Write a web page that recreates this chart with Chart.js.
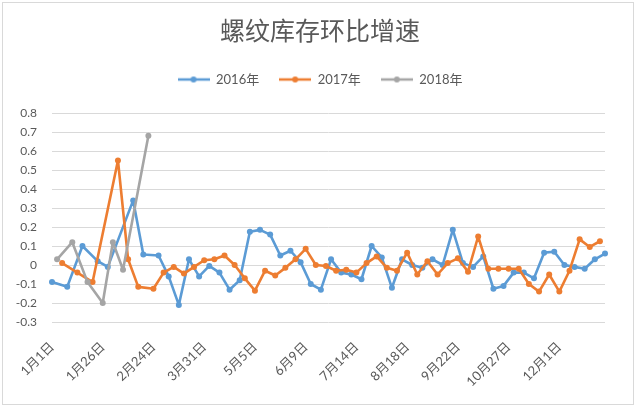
<!DOCTYPE html>
<html>
<head>
<meta charset="utf-8">
<script src="https://cdn.jsdelivr.net/npm/chart.js@4.4.1/dist/chart.umd.min.js"></script>
<style>
html, body { margin: 0; padding: 0; background: #fff; }
#wrap { position: relative; width: 640px; height: 411px; }
#frame { position: absolute; left: 2px; top: 2px; width: 632px; height: 403px; border: 1px solid #d9d9d9; box-sizing: border-box; pointer-events: none; }
</style>
</head>
<body>
<div id="wrap">
  <canvas id="chart" width="640" height="411"></canvas>
  <div id="frame"></div>
</div>
<script>
// Linhas do eixo: datas dos três anos intercaladas (mês/dia)
const dateLabels = [
  '1月1日', '1月5日', '1月6日', '1月8日', '1月12日', '1月13日', '1月15日', '1月19日', '1月20日', '1月22日',
  '1月26日', '1月29日', '2月2日', '2月3日', '2月9日', '2月10日', '2月12日', '2月17日', '2月19日', '2月23日',
  '2月24日', '2月26日', '3月3日', '3月4日', '3月10日', '3月11日', '3月17日', '3月18日', '3月24日', '3月25日',
  '3月31日', '4月1日', '4月7日', '4月8日', '4月14日', '4月15日', '4月21日', '4月22日', '4月28日', '4月29日',
  '5月5日', '5月6日', '5月12日', '5月13日', '5月19日', '5月20日', '5月26日', '5月27日', '6月2日', '6月3日',
  '6月9日', '6月10日', '6月16日', '6月17日', '6月23日', '6月24日', '6月30日', '7月1日', '7月7日', '7月8日',
  '7月14日', '7月15日', '7月21日', '7月22日', '7月28日', '7月29日', '8月4日', '8月5日', '8月11日', '8月12日',
  '8月18日', '8月19日', '8月25日', '8月26日', '9月1日', '9月2日', '9月8日', '9月9日', '9月15日', '9月16日',
  '9月22日', '9月23日', '9月29日', '9月30日', '10月6日', '10月7日', '10月13日', '10月14日', '10月20日', '10月21日',
  '10月27日', '10月28日', '11月3日', '11月4日', '11月10日', '11月11日', '11月17日', '11月18日', '11月24日', '11月25日',
  '12月1日', '12月2日', '12月8日', '12月9日', '12月15日', '12月16日', '12月22日', '12月23日', '12月29日', '12月30日'
];

const serie2016 = [
  -0.09, null, null, -0.115, null, null, 0.10, null, null, 0.02,
  null, -0.01, null, null, null, null, 0.34, null, 0.055, null,
  null, 0.05, null, -0.06, null, -0.21, null, 0.03, null, -0.06,
  null, -0.005, null, -0.04, null, -0.13, null, -0.08, null, 0.175,
  null, 0.185, null, 0.16, null, 0.05, null, 0.075, null, 0.015,
  null, -0.10, null, -0.13, null, 0.03, null, -0.04, null, -0.05,
  null, -0.075, null, 0.10, null, 0.04, null, -0.12, null, 0.03,
  null, 0.00, null, -0.015, null, 0.03, null, 0.00, null, 0.185,
  null, 0.01, null, -0.01, null, 0.045, null, -0.125, null, -0.11,
  null, -0.04, null, -0.04, null, -0.07, null, 0.065, null, 0.07,
  null, 0.00, null, -0.01, null, -0.02, null, 0.03, null, 0.06
];

const serie2017 = [
  null, null, 0.01, null, null, -0.04, null, null, -0.09, null,
  null, null, null, 0.55, null, 0.03, null, -0.115, null, null,
  -0.125, null, -0.04, null, -0.01, null, -0.045, null, -0.01, null,
  0.025, null, 0.03, null, 0.05, null, 0.00, null, -0.07, null,
  -0.135, null, -0.03, null, -0.055, null, -0.015, null, 0.03, null,
  0.085, null, 0.00, null, -0.005, null, -0.03, null, -0.025, null,
  -0.04, null, 0.01, null, 0.045, null, -0.015, null, -0.03, null,
  0.065, null, -0.05, null, 0.02, null, -0.05, null, 0.01, null,
  0.035, null, -0.035, null, 0.15, null, -0.02, null, -0.02, null,
  -0.02, null, -0.02, null, -0.10, null, -0.14, null, -0.05, null,
  -0.14, null, -0.03, null, 0.135, null, 0.095, null, 0.125, null
];

const serie2018 = [
  null, 0.03, null, null, 0.12, null, null, -0.09, null, null,
  -0.20, null, 0.12, null, -0.025, null, null, null, null, 0.68
];

const seriesNames = ['2016年', '2017年', '2018年'];
const seriesColors = ['#5B9BD5', '#ED7D31', '#A5A5A5'];

const FONT = 'Lato, "Noto Sans CJK SC", sans-serif';
const TEXT_COLOR = '#595959';

// Ícone da legenda: linha com marcador
function iconeLegenda(cor) {
    const c = document.createElement('canvas');
    c.width = 32;
    c.height = 8;
    const g = c.getContext('2d');
    g.strokeStyle = cor;
    g.lineWidth = 2.5;
    g.beginPath();
    g.moveTo(0, 4);
    g.lineTo(32, 4);
    g.stroke();
    g.fillStyle = cor;
    g.beginPath();
    g.arc(16, 4, 3, 0, Math.PI * 2);
    g.fill();
    return c;
}
const icones = seriesColors.map(iconeLegenda);

function montarSerie(i, dados, ordem) {
    return {
        label: seriesNames[i],
        data: dados,
        borderColor: seriesColors[i],
        backgroundColor: seriesColors[i],
        pointBackgroundColor: seriesColors[i],
        pointBorderWidth: 0,
        pointRadius: 3,
        borderWidth: 2.6,
        borderJoinStyle: 'round',
        spanGaps: true,
        tension: 0,
        yAxisID: 'y',
        order: ordem
    };
}

// Espaço extra abaixo da legenda
const espacoLegenda = {
    id: 'espacoLegenda',
    afterInit(chart) {
        const lg = chart.legend;
        const fitOriginal = lg.fit;
        lg.fit = function() {
            fitOriginal.call(this);
            this.height += 17;
        };
    }
};

const ctx = document.getElementById('chart').getContext('2d');
new Chart(ctx, {
    type: 'line',
    data: {
        labels: dateLabels,
        datasets: [
            montarSerie(0, serie2016, 3),
            montarSerie(1, serie2017, 2),
            montarSerie(2, serie2018, 1)
        ]
    },
    plugins: [espacoLegenda],
    options: {
        responsive: false,
        animation: false,
        devicePixelRatio: 1,
        layout: {
            padding: { left: 8, right: 8, top: 0, bottom: 0 }
        },
        plugins: {
            title: {
                display: true,
                text: '螺纹库存环比增速',
                color: TEXT_COLOR,
                font: { size: 25, family: FONT, weight: 'normal', lineHeight: 1.2 },
                padding: { top: 17, bottom: 6 }
            },
            legend: {
                position: 'top',
                labels: {
                    usePointStyle: true,
                    pointStyleWidth: 32,
                    boxHeight: 8,
                    padding: 20,
                    color: TEXT_COLOR,
                    font: { size: 13, family: FONT },
                    sort: (a, b) => a.datasetIndex - b.datasetIndex,
                    generateLabels(chart) {
                        const itens = Chart.defaults.plugins.legend.labels.generateLabels(chart);
                        itens.forEach(it => { it.pointStyle = icones[it.datasetIndex]; });
                        return itens;
                    }
                }
            },
            tooltip: { enabled: false }
        },
        scales: {
            x: {
                grid: { display: false },
                border: { display: false },
                ticks: {
                    autoSkip: false,
                    minRotation: 45,
                    maxRotation: 45,
                    padding: 9,
                    color: TEXT_COLOR,
                    font: { size: 13, family: FONT },
                    callback: (v, i) => (i % 10 === 0 ? dateLabels[i] : '')
                },
                afterFit: s => { s.height = 89; }
            },
            y: {
                position: 'left',
                min: -0.3,
                max: 0.8,
                ticks: {
                    stepSize: 0.1,
                    padding: 15,
                    color: TEXT_COLOR,
                    font: { size: 12, family: FONT },
                    callback: v => String(Math.round(v * 10) / 10)
                },
                grid: { display: true, color: '#d9d9d9', lineWidth: 1, drawTicks: false },
                border: { display: false },
                afterFit: s => { s.width = 44; }
            },
            // eixo vazio à direita só para reservar a margem
            margemDireita: {
                type: 'linear',
                position: 'right',
                grid: { display: false },
                border: { display: false },
                ticks: { display: false },
                afterFit: s => { s.width = 27; }
            }
        }
    }
});
</script>
</body>
</html>
